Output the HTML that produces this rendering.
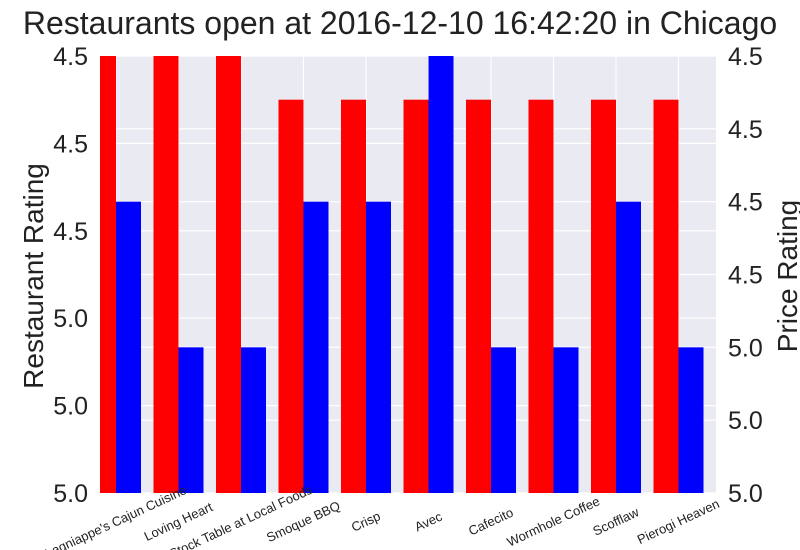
<!DOCTYPE html>
<html><head><meta charset="utf-8"><style>
body{margin:0;background:#fff;}
svg{display:block;font-family:"Liberation Sans",Arial,sans-serif;}
</style></head><body>
<svg id="chart" width="800" height="550">
<text x="400" y="34" text-anchor="middle" font-size="32" fill="#222">Restaurants open at 2016-12-10 16:42:20 in Chicago</text>
<rect x="100" y="56" width="616" height="437" fill="#eaeaf2"/>
<g id="grid"></g><g id="bars"></g><g id="axes"></g>
<text transform="translate(43,276) rotate(-90)" text-anchor="middle" font-size="28" fill="#222">Restaurant Rating</text>
<text transform="translate(797,276) rotate(-90)" text-anchor="middle" font-size="28" fill="#222">Price Rating</text>
</svg>
<script>
const categories=["Lagniappe's Cajun Cuisine","Loving Heart","Stock Table at Local Foods","Smoque BBQ","Crisp","Avec","Cafecito","Wormhole Coffee","Scofflaw","Pierogi Heaven"];
const ratings=[5,5,5,4.5,4.5,4.5,4.5,4.5,4.5,4.5];
const prices=[2,1,1,2,2,3,1,1,2,1];
const leftTickValues=[0,1,2,3,4,5];
const leftTickLabels=["5.0","5.0","5.0","4.5","4.5","4.5"];
const rightTickValues=[0,0.5,1,1.5,2,2.5,3];
const rightTickLabels=["5.0","5.0","5.0","4.5","4.5","4.5","4.5"];
const NS="http://www.w3.org/2000/svg";
const pTop=56,pBot=493,pL=100,pR=716;
const yL=v=>pBot-(v/5)*(pBot-pTop);
const yR=v=>pBot-(v/3)*(pBot-pTop);
const xC=i=>116+i*62.5;
function mk(t,a,p){const e=document.createElementNS(NS,t);for(const k in a)e.setAttribute(k,a[k]);p.appendChild(e);return e;}
const grid=document.getElementById('grid'),bars=document.getElementById('bars'),axes=document.getElementById('axes');
leftTickValues.forEach((v,i)=>{
 const g=mk('line',{x1:pL,x2:pR,y1:yL(v),y2:yL(v),stroke:'#fff','stroke-width':1.2},grid);
 
 
 const t=mk('text',{x:88,y:yL(v)+9,'text-anchor':'end','font-size':25,fill:'#222'},axes);
 t.textContent=leftTickLabels[i];
 
 
});
rightTickValues.forEach((v,i)=>{
 const g=mk('line',{x1:pL,x2:pR,y1:yR(v),y2:yR(v),stroke:'#fff','stroke-width':1.2},grid);
 
 
 const t=mk('text',{x:728,y:yR(v)+9,'font-size':25,fill:'#222'},axes);
 t.textContent=rightTickLabels[i];
 
 
});
categories.forEach((c,i)=>{
 const g=mk('line',{x1:xC(i),x2:xC(i),y1:pTop,y2:pBot,stroke:'#fff','stroke-width':1.2},grid);
 
 
 const rx=Math.max(pL,xC(i)-25);
 const r=mk('rect',{x:rx,y:yL(ratings[i]),width:xC(i)-rx,height:pBot-yL(ratings[i]),fill:'#ff0000'},bars);
 
 
 const b=mk('rect',{x:xC(i),y:yR(prices[i]),width:25,height:pBot-yR(prices[i]),fill:'#0000ff'},bars);
 
 
 const t=mk('text',{x:xC(i),y:526,'text-anchor':'middle','font-size':13,fill:'#222',transform:`rotate(-25 ${xC(i)} 522)`},axes);
 t.textContent=c;
 
 
});
</script>
</body></html>
